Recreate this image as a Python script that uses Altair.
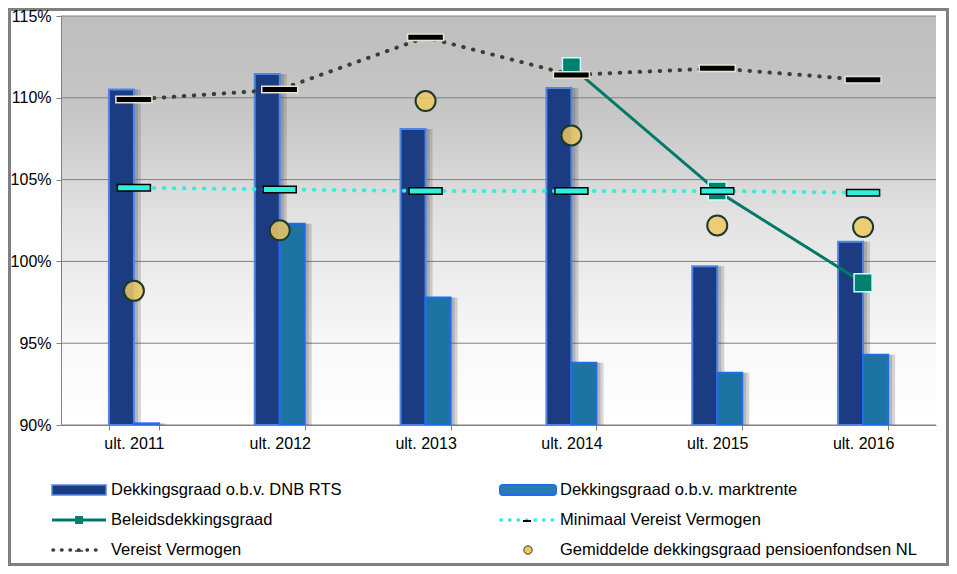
import altair as alt
import pandas as pd

# ---------------- data ----------------
categories = ["ult. 2011", "ult. 2012", "ult. 2013", "ult. 2014", "ult. 2015", "ult. 2016"]
dnb_rts = [110.5, 111.45, 108.1, 110.6, 99.7, 101.2]
marktrente = [90.1, 102.3, 97.8, 93.8, 93.2, 94.3]
beleid = [None, None, None, 111.9, 104.3, 98.7]
minimaal = [104.5, 104.4, 104.3, 104.3, 104.3, 104.2]
vereist = [109.9, 110.5, 113.7, 111.4, 111.8, 111.1]
gemiddelde = [98.2, 101.9, 109.8, 107.7, 102.2, 102.1]
y_ticks = [90, 95, 100, 105, 110, 115]

bar_series = ["Dekkingsgraad o.b.v. DNB RTS", "Dekkingsgraad o.b.v. marktrente"]
legend_labels = [
    "Dekkingsgraad o.b.v. DNB RTS",
    "Dekkingsgraad o.b.v. marktrente",
    "Beleidsdekkingsgraad",
    "Minimaal Vereist Vermogen",
    "Vereist Vermogen",
    "Gemiddelde dekkingsgraad pensioenfondsen NL",
]

bars_df = pd.DataFrame({
    "cat": categories * 2,
    "series": [bar_series[0]] * 6 + [bar_series[1]] * 6,
    "value": dnb_rts + marktrente,
})
dnb_df = pd.DataFrame({"cat": categories, "value": dnb_rts})
markt_df = pd.DataFrame({"cat": categories, "value": marktrente})
beleid_df = pd.DataFrame({"cat": categories, "value": beleid}).dropna()
min_df = pd.DataFrame({"cat": categories, "value": minimaal})
ver_df = pd.DataFrame({"cat": categories, "value": vereist})
gem_df = pd.DataFrame({"cat": categories, "value": gemiddelde})
grid_df = pd.DataFrame({"value": y_ticks})
one = alt.Data(values=[{"k": 1}])

W, H = 875, 409
PL, PT, PR, PB = 53, 8, 13, 141
FONT = "Liberation Sans"

NAVY = "#1b3c80"
NAVY_EDGE = "#4f86e6"
TEAL = "#1d74a3"
TEAL_EDGE = "#1f6cf0"
GREEN = "#007a68"
CYAN = "#30efdf"
DARK = "#3c3c3c"
GOLD = "#f0c860"

x_enc = alt.X(
    "cat:N",
    sort=categories,
    scale=alt.Scale(domain=categories, paddingInner=0.657, paddingOuter=0.3285),
    axis=alt.Axis(
        title=None, labelFont=FONT, labelFontSize=16, labelColor="black",
        labelAngle=0, tickBand="extent", tickSize=5, tickColor="#808080",
        domainColor="#808080", labelPadding=5, grid=False, zindex=1,
    ),
)
y_scale = alt.Scale(domain=[90, 115], zero=False, nice=False)
y_axis = alt.Axis(
    title=None, values=y_ticks, labelExpr="datum.value + '%'", labelFont=FONT,
    labelFontSize=16, labelColor="black", tickSize=5, tickColor="#808080",
    domainColor="#808080", labelPadding=5, grid=False, zindex=1,
)
y_enc = alt.Y("value:Q", scale=y_scale, axis=y_axis)

# ---------------- plot layers ----------------
background = alt.Chart(one).mark_rect(
    fill={
        "gradient": "linear", "x1": 0, "y1": 0, "x2": 0, "y2": 1,
        "stops": [
            {"offset": 0, "color": "#bebebe"},
            {"offset": 0.25, "color": "#c7c7c7"},
            {"offset": 0.5, "color": "#e3e3e3"},
            {"offset": 0.8, "color": "#f8f8f8"},
            {"offset": 1, "color": "#ffffff"},
        ],
    }
).encode(x=alt.value(0), x2=alt.value(W), y=alt.value(0), y2=alt.value(H))

grid = alt.Chart(grid_df).mark_rule(color="#808080", strokeWidth=1).encode(y=y_enc)

# soft drop shadows to the right of the bars
def shadow(df, shift, width):
    return alt.Chart(df).mark_bar(
        width=width, xOffset=shift, fill="#4a4a4a", opacity=0.22
    ).encode(x=x_enc, y=y_enc, y2=alt.datum(90))

shadows = [
    shadow(dnb_df, -12.5 + 4, 25), shadow(dnb_df, -12.5 + 7, 25),
    shadow(markt_df, 12.5 + 4, 25), shadow(markt_df, 12.5 + 7, 25),
]

xoff_enc = alt.XOffset("series:N", sort=bar_series, scale=alt.Scale(domain=bar_series, paddingInner=0))

bars = alt.Chart(bars_df).mark_bar(strokeWidth=2).encode(
    x=x_enc,
    xOffset=xoff_enc,
    y=y_enc,
    y2=alt.datum(90),
    fill=alt.Fill("series:N", scale=alt.Scale(domain=bar_series, range=[NAVY, TEAL]), legend=None),
    stroke=alt.Stroke("series:N", scale=alt.Scale(domain=bar_series, range=[NAVY_EDGE, TEAL_EDGE]), legend=None),
)

beleid_line = alt.Chart(beleid_df).mark_line(color=GREEN, strokeWidth=3).encode(x=x_enc, y=y_enc)
beleid_pts = alt.Chart(beleid_df).mark_point(
    shape="square", size=324, filled=True, fill="#00806e", stroke="#c8ffff", strokeWidth=1.5, opacity=1
).encode(x=x_enc, y=y_enc)

ver_line = alt.Chart(ver_df).mark_line(
    color=DARK, strokeWidth=4, strokeDash=[0.5, 9.5], strokeCap="round"
).encode(x=x_enc, y=y_enc)
min_line = alt.Chart(min_df).mark_line(
    color=CYAN, strokeWidth=4, strokeDash=[0.5, 9.5], strokeCap="round"
).encode(x=x_enc, y=y_enc)

ver_tick = alt.Chart(ver_df).mark_tick(
    orient="horizontal", size=36, thickness=6.5, fill="black", stroke="#e8e4d0", strokeWidth=1.5, opacity=1
).encode(x=x_enc, y=y_enc)
min_tick = alt.Chart(min_df).mark_tick(
    orient="horizontal", size=33, thickness=6.5, fill=CYAN, stroke="black", strokeWidth=1.5, opacity=1
).encode(x=x_enc, y=y_enc)

gem_pts = alt.Chart(gem_df).mark_point(
    shape="circle", size=400, filled=True, fill=GOLD, fillOpacity=0.85, stroke="#1a3a2a", strokeWidth=2, opacity=1
).encode(x=x_enc, y=y_enc)

# ---------------- frame ----------------
frame = alt.Chart(one).mark_rect(filled=False, stroke="#808080", strokeWidth=3).encode(
    x=alt.value(-PL + 1.5), x2=alt.value(W + PR - 1.5), y=alt.value(-PT + 1.5), y2=alt.value(H + PB - 1.5)
)

# ---------------- legend ----------------
LX1, LX2 = -9, 439          # symbol start of left / right columns
TX1, TX2 = 50, 499          # text start
R1, R2, R3 = 474, 504, 534  # row centers

def txt(label, x, y):
    return alt.Chart(one).mark_text(
        align="left", baseline="middle", font=FONT, fontSize=16.5, color="black"
    ).encode(x=alt.value(x), y=alt.value(y), text=alt.value(label))

leg = [
    alt.Chart(one).mark_rect(fill=NAVY, stroke=NAVY_EDGE, strokeWidth=1.5).encode(
        x=alt.value(LX1), x2=alt.value(LX1 + 54), y=alt.value(R1 - 5), y2=alt.value(R1 + 5)),
    txt(legend_labels[0], TX1, R1),
    alt.Chart(one).mark_rect(fill="#2a7db0", stroke=TEAL_EDGE, strokeWidth=2, cornerRadius=3).encode(
        x=alt.value(LX2), x2=alt.value(LX2 + 56), y=alt.value(R1 - 5), y2=alt.value(R1 + 5)),
    txt(legend_labels[1], TX2, R1),
    alt.Chart(one).mark_rule(color=GREEN, strokeWidth=3).encode(
        x=alt.value(LX1), x2=alt.value(LX1 + 54), y=alt.value(R2)),
    alt.Chart(one).mark_point(shape="square", size=64, filled=True, fill="#00806e", opacity=1).encode(
        x=alt.value(LX1 + 27), y=alt.value(R2)),
    txt(legend_labels[2], TX1, R2),
    alt.Chart(one).mark_rule(color=CYAN, strokeWidth=3.5, strokeDash=[0.5, 8], strokeCap="round").encode(
        x=alt.value(LX2 + 1), x2=alt.value(LX2 + 54), y=alt.value(R2)),
    alt.Chart(one).mark_rule(color="black", strokeWidth=2).encode(
        x=alt.value(LX2 + 23), x2=alt.value(LX2 + 31), y=alt.value(R2 + 1)),
    txt(legend_labels[3], TX2, R2),
    alt.Chart(one).mark_rule(color=DARK, strokeWidth=3.5, strokeDash=[0.5, 8], strokeCap="round").encode(
        x=alt.value(LX1 + 1), x2=alt.value(LX1 + 52), y=alt.value(R3)),
    alt.Chart(one).mark_rule(color=DARK, strokeWidth=1.5).encode(
        x=alt.value(LX1 + 23), x2=alt.value(LX1 + 31), y=alt.value(R3 + 1)),
    txt(legend_labels[4], TX1, R3),
    alt.Chart(one).mark_point(shape="circle", size=70, filled=True, fill=GOLD, stroke="#3a3a2a",
                              strokeWidth=1, opacity=1).encode(
        x=alt.value(LX2 + 28), y=alt.value(R3)),
    txt(legend_labels[5], TX2, R3),
]

chart = alt.layer(
    background, grid, *shadows, bars, beleid_line, beleid_pts, ver_line, min_line,
    ver_tick, min_tick, gem_pts, frame, *leg
).properties(
    width=W, height=H,
    padding={"left": PL, "top": PT, "right": PR, "bottom": PB},
    autosize=alt.AutoSizeParams(type="none"),
    background="white",
).configure_view(stroke=None)

chart.save("out.html", embed_options={"renderer": "svg", "actions": False})
